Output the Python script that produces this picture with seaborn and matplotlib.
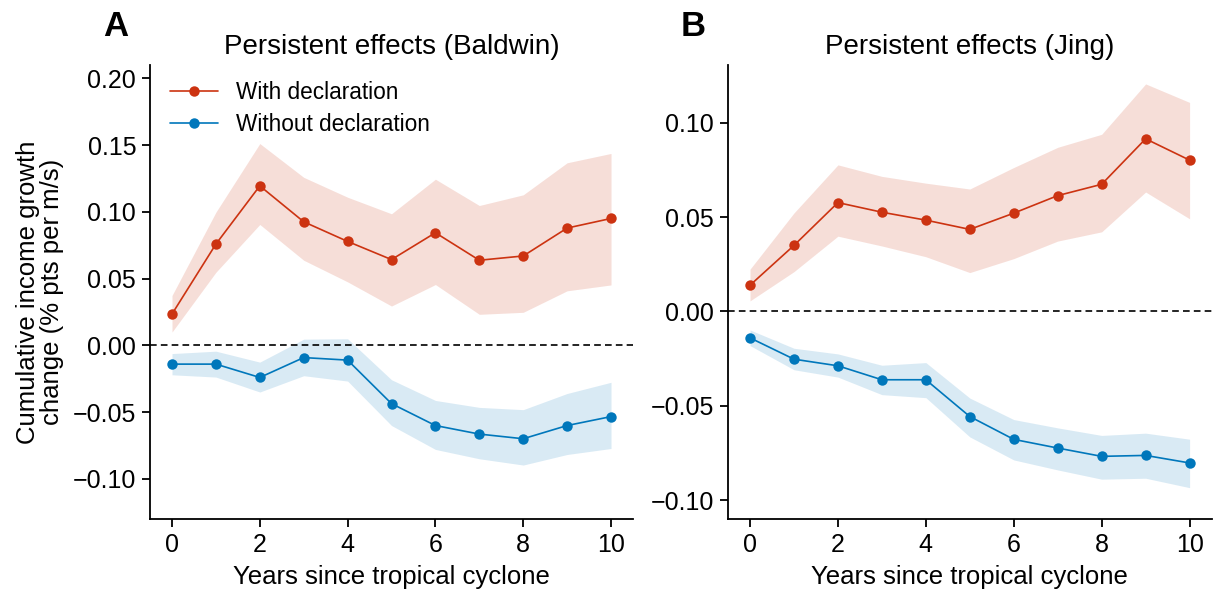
import numpy as np
import pandas as pd
import matplotlib
matplotlib.use("Agg")
import matplotlib.pyplot as plt
from matplotlib.ticker import FuncFormatter
import seaborn as sns

years = list(range(11))

# Baldwin wind fields
baldwin_with = [0.0235, 0.0759, 0.1195, 0.0926, 0.0779, 0.0643, 0.0844, 0.0638, 0.0670, 0.0879, 0.0951]
baldwin_with_hi = [0.0374, 0.0998, 0.1512, 0.1259, 0.1110, 0.0986, 0.1245, 0.1048, 0.1128, 0.1368, 0.1438]
baldwin_with_lo = [0.0100, 0.0548, 0.0906, 0.0638, 0.0476, 0.0295, 0.0456, 0.0233, 0.0248, 0.0409, 0.0453]
baldwin_without = [-0.0140, -0.0140, -0.0240, -0.0091, -0.0110, -0.0436, -0.0600, -0.0664, -0.0699, -0.0600, -0.0533]
baldwin_without_hi = [-0.0061, -0.0043, -0.0125, 0.0047, 0.0050, -0.0257, -0.0412, -0.0464, -0.0481, -0.0360, -0.0276]
baldwin_without_lo = [-0.0220, -0.0237, -0.0349, -0.0227, -0.0267, -0.0600, -0.0779, -0.0849, -0.0896, -0.0817, -0.0772]

# Jing wind fields
jing_with = [0.0139, 0.0350, 0.0577, 0.0526, 0.0484, 0.0435, 0.0521, 0.0614, 0.0674, 0.0915, 0.0802]
jing_with_hi = [0.0224, 0.0522, 0.0777, 0.0716, 0.0680, 0.0649, 0.0763, 0.0870, 0.0939, 0.1206, 0.1108]
jing_with_lo = [0.0056, 0.0211, 0.0399, 0.0347, 0.0290, 0.0206, 0.0280, 0.0373, 0.0422, 0.0633, 0.0491]
jing_without = [-0.0140, -0.0253, -0.0288, -0.0362, -0.0362, -0.0557, -0.0678, -0.0724, -0.0768, -0.0763, -0.0803]
jing_without_hi = [-0.0098, -0.0195, -0.0225, -0.0285, -0.0271, -0.0459, -0.0573, -0.0617, -0.0657, -0.0645, -0.0677]
jing_without_lo = [-0.0181, -0.0309, -0.0348, -0.0441, -0.0457, -0.0665, -0.0787, -0.0840, -0.0889, -0.0884, -0.0934]

series_labels = ["With declaration", "Without declaration"]
titles = ["Persistent effects (Baldwin)", "Persistent effects (Jing)"]
panel_letters = ["A", "B"]
x_ticks = [0, 2, 4, 6, 8, 10]
y_ticks_a = [-0.10, -0.05, 0.00, 0.05, 0.10, 0.15, 0.20]
y_ticks_b = [-0.10, -0.05, 0.00, 0.05, 0.10]

RED = "#cc3311"
BLUE = "#0077bb"

sns.set_theme(style="ticks")
plt.rcParams["font.family"] = ["Liberation Sans", "DejaVu Sans"]
for key in ["text.color", "axes.labelcolor", "xtick.color", "ytick.color", "axes.edgecolor"]:
    plt.rcParams[key] = "black"

fig = plt.figure(figsize=(12.14, 5.93), dpi=100)
axA = fig.add_axes([0.1236, 0.1248, 0.3978, 0.7655])
axB = fig.add_axes([0.5997, 0.1248, 0.3983, 0.7655])


def fmt(v, _pos):
    s = f"{abs(v):.2f}"
    return ("\u2212" + s) if v < -1e-9 else s


panels = [
    (axA, baldwin_with, baldwin_with_lo, baldwin_with_hi,
     baldwin_without, baldwin_without_lo, baldwin_without_hi, (-0.13, 0.21), y_ticks_a),
    (axB, jing_with, jing_with_lo, jing_with_hi,
     jing_without, jing_without_lo, jing_without_hi, (-0.11, 0.1306), y_ticks_b),
]

for i, (ax, w, wlo, whi, wo, wolo, wohi, ylim, yticks) in enumerate(panels):
    df = pd.DataFrame({
        "year": years * 2,
        "value": w + wo,
        "group": [series_labels[0]] * 11 + [series_labels[1]] * 11,
    })
    ax.fill_between(years, wlo, whi, color=RED, alpha=0.16, linewidth=0)
    ax.fill_between(years, wolo, wohi, color=BLUE, alpha=0.15, linewidth=0)
    ax.axhline(0, color="black", linestyle=(0, (4, 2.5)), linewidth=1.2, zorder=1)
    sns.lineplot(data=df, x="year", y="value", hue="group",
                 palette={series_labels[0]: RED, series_labels[1]: BLUE},
                 marker="o", markersize=7.5, markeredgewidth=0, linewidth=1.2,
                 ax=ax, legend=(i == 0))
    ax.set_xlim(-0.5, 10.5)
    ax.set_ylim(*ylim)
    ax.set_xticks(x_ticks)
    ax.set_yticks(yticks)
    ax.yaxis.set_major_formatter(FuncFormatter(fmt))
    ax.tick_params(labelsize=18, length=6, width=1.3, pad=4)
    for s in ["left", "bottom"]:
        ax.spines[s].set_linewidth(1.3)
    sns.despine(ax=ax)
    ax.set_xlabel("Years since tropical cyclone", fontsize=18.5, labelpad=6)
    ax.set_ylabel("")
    ax.set_title(titles[i], fontsize=20, pad=8)

axA.set_ylabel("Cumulative income growth\nchange (% pts per m/s)", fontsize=18.5,
               labelpad=6, linespacing=1.0)
axA.legend(loc="upper left", frameon=False, fontsize=16.3, handlelength=2.1,
           bbox_to_anchor=(0.0, 1.01), labelspacing=0.42, handletextpad=0.8)

fig.text(0.085, 0.928, panel_letters[0], fontsize=25, fontweight="bold", ha="left", va="bottom")
fig.text(0.561, 0.928, panel_letters[1], fontsize=25, fontweight="bold", ha="left", va="bottom")

fig.savefig("out.png", dpi=100)
